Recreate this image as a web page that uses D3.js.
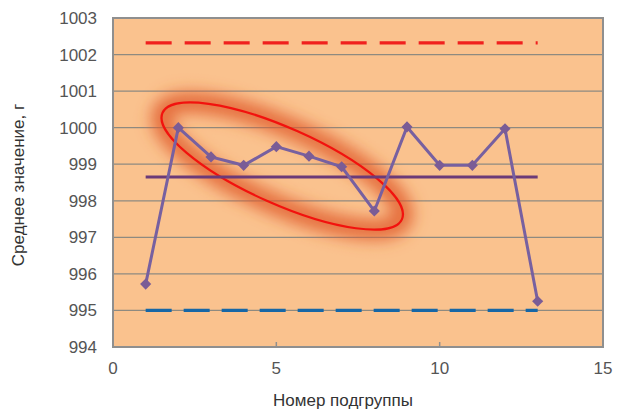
<!DOCTYPE html>
<html>
<head>
<meta charset="utf-8">
<script src="https://cdn.jsdelivr.net/npm/d3@7"></script>
<style>
  body { margin: 0; background: #fff; }
  text { font-family: "Liberation Sans", Arial, sans-serif; }
</style>
</head>
<body>
<svg width="617" height="410"></svg>
<script>
// Data
var subgroups = [1, 2, 3, 4, 5, 6, 7, 8, 9, 10, 11, 12, 13];
var means = [995.72, 1000.0, 999.2, 998.97, 999.48, 999.22, 998.93, 997.72, 1000.02, 998.97, 998.97, 999.97, 995.25];
var centerLine = 998.65;
var upperLimit = 1002.32;
var lowerLimit = 995.0;
var xTicks = [0, 5, 10, 15];
var yTicks = [994, 995, 996, 997, 998, 999, 1000, 1001, 1002, 1003];

// Set up margins and dimensions
var margin = { top: 18, right: 10, bottom: 63, left: 113 };
var width = 617 - margin.left - margin.right;
var height = 410 - margin.top - margin.bottom;

var svg = d3.select("svg");
var g = svg.append("g")
    .attr("transform", "translate(" + margin.left + "," + margin.top + ")");

var xScale = d3.scaleLinear().domain([0, 15]).range([0, width - 4]);
var yScale = d3.scaleLinear().domain([994, 1003]).range([height, 0]);

// plot background
g.append("rect")
    .attr("width", xScale(15))
    .attr("height", height)
    .attr("fill", "#FAC28E");

// horizontal grid
g.append("g")
    .selectAll("line")
    .data(yTicks)
    .enter().append("line")
    .attr("x1", 0)
    .attr("x2", xScale(15))
    .attr("y1", function(d) { return yScale(d); })
    .attr("y2", function(d) { return yScale(d); })
    .attr("stroke", "#8E8A80")
    .attr("stroke-width", 1.3);

// glow around the ellipse
var defs = svg.append("defs");
defs.append("filter")
    .attr("id", "glow")
    .attr("x", "-50%").attr("y", "-50%")
    .attr("width", "200%").attr("height", "200%")
    .append("feGaussianBlur")
    .attr("stdDeviation", 8);

var ecx = xScale(5.18), ecy = yScale(998.95);
var ell = g.append("g")
    .attr("transform", "translate(" + ecx + "," + ecy + ") rotate(24)");
ell.append("ellipse")
    .attr("rx", 131).attr("ry", 38)
    .attr("fill", "none")
    .attr("stroke", "#E05A28")
    .attr("stroke-opacity", 0.85)
    .attr("stroke-width", 20)
    .attr("filter", "url(#glow)");

// limit lines
g.append("line")
    .attr("x1", xScale(1)).attr("x2", xScale(13))
    .attr("y1", yScale(upperLimit)).attr("y2", yScale(upperLimit))
    .attr("stroke", "#F0201E")
    .attr("stroke-width", 3.2)
    .attr("stroke-dasharray", "26,13");

g.append("line")
    .attr("x1", xScale(1)).attr("x2", xScale(13))
    .attr("y1", yScale(lowerLimit)).attr("y2", yScale(lowerLimit))
    .attr("stroke", "#1767A6")
    .attr("stroke-width", 3.2)
    .attr("stroke-dasharray", "26,12");

g.append("line")
    .attr("x1", xScale(1)).attr("x2", xScale(13))
    .attr("y1", yScale(centerLine)).attr("y2", yScale(centerLine))
    .attr("stroke", "#6B3A78")
    .attr("stroke-width", 3);

// data line
var points = subgroups.map(function(d, i) { return [d, means[i]]; });
var line = d3.line()
    .x(function(d) { return xScale(d[0]); })
    .y(function(d) { return yScale(d[1]); });

g.append("path")
    .datum(points)
    .attr("d", line)
    .attr("fill", "none")
    .attr("stroke", "#7760A0")
    .attr("stroke-width", 3);

g.append("g")
    .selectAll("path")
    .data(points)
    .enter().append("path")
    .attr("d", d3.symbol(d3.symbolSquare, 62))
    .attr("transform", function(d) {
        return "translate(" + xScale(d[0]) + "," + yScale(d[1]) + ") rotate(45)";
    })
    .attr("fill", "#7A5C96");

// red ellipse outline
ell.append("ellipse")
    .attr("rx", 131).attr("ry", 38)
    .attr("fill", "none")
    .attr("stroke", "#F2120E")
    .attr("stroke-width", 2.2);

// border
g.append("rect")
    .attr("width", xScale(15))
    .attr("height", height)
    .attr("fill", "none")
    .attr("stroke", "#8F8F8F")
    .attr("stroke-width", 2);

// x ticks (inside)
g.append("g")
    .selectAll("line")
    .data(xTicks)
    .enter().append("line")
    .attr("x1", function(d) { return xScale(d); })
    .attr("x2", function(d) { return xScale(d); })
    .attr("y1", height)
    .attr("y2", height - 5)
    .attr("stroke", "#8F8F8F")
    .attr("stroke-width", 1.5);

// tick labels
g.append("g")
    .selectAll("text")
    .data(xTicks)
    .enter().append("text")
    .attr("x", function(d) { return xScale(d); })
    .attr("y", height + 27)
    .attr("text-anchor", "middle")
    .attr("font-size", "17px")
    .attr("fill", "#555")
    .text(function(d) { return d; });

g.append("g")
    .selectAll("text")
    .data(yTicks)
    .enter().append("text")
    .attr("x", -16)
    .attr("y", function(d) { return yScale(d); })
    .attr("dy", "0.35em")
    .attr("text-anchor", "end")
    .attr("font-size", "17px")
    .attr("fill", "#555")
    .text(function(d) { return d; });

// axis titles
svg.append("text")
    .attr("x", 343)
    .attr("y", 406)
    .attr("text-anchor", "middle")
    .attr("font-size", "17px")
    .attr("fill", "#333")
    .text("Номер подгруппы");

svg.append("text")
    .attr("transform", "translate(24,185) rotate(-90)")
    .attr("text-anchor", "middle")
    .attr("font-size", "17px")
    .attr("fill", "#333")
    .text("Среднее значение, г");
</script>
</body>
</html>
